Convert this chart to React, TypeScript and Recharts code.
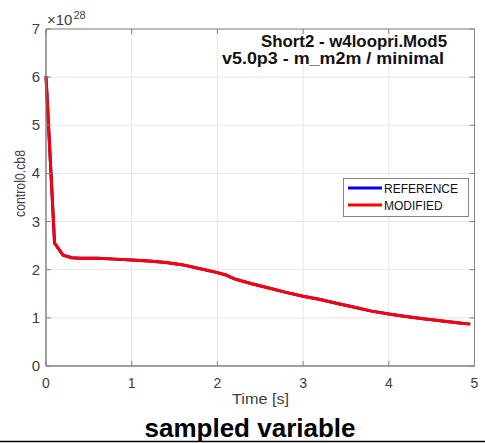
import React from 'react';
import { LineChart, Line, XAxis, YAxis, CartesianGrid, ReferenceArea } from 'recharts';

const times = [0, 0.1, 0.2, 0.3, 0.4, 0.6, 0.8, 1.0, 1.2, 1.4, 1.6, 1.8, 2.0, 2.1, 2.2, 2.4, 2.6, 2.8, 3.0, 3.2, 3.4, 3.6, 3.8, 4.0, 4.2, 4.4, 4.6, 4.8, 4.95];
const referenceValues = [6.02, 2.55, 2.3, 2.25, 2.24, 2.24, 2.22, 2.2, 2.18, 2.15, 2.1, 2.02, 1.94, 1.89, 1.81, 1.71, 1.62, 1.53, 1.45, 1.38, 1.3, 1.22, 1.14, 1.08, 1.03, 0.98, 0.94, 0.9, 0.87];
const modifiedValues = [6.02, 2.55, 2.3, 2.25, 2.24, 2.24, 2.22, 2.2, 2.18, 2.15, 2.1, 2.02, 1.94, 1.89, 1.81, 1.71, 1.62, 1.53, 1.45, 1.38, 1.3, 1.22, 1.14, 1.08, 1.03, 0.98, 0.94, 0.9, 0.87];
const xTicks = [0, 1, 2, 3, 4, 5];
const yTicks = [0, 1, 2, 3, 4, 5, 6, 7];
const seriesNames = ['REFERENCE', 'MODIFIED'];
const seriesColors = ['#0000ff', '#ff0000'];
const titleLines = ['Short2 - w4loopri.Mod5', 'v5.0p3 - m_m2m / minimal'];
const yLabel = 'control0.cb8';
const xLabel = 'Time [s]';
const caption = 'sampled variable';
const exponent = '28';

const data = times.map((t, i) => ({ t, ref: referenceValues[i], mod: modifiedValues[i] }));

const W = 485;
const H = 443;
const L = 46;
const R = 474.5;
const T = 29;
const B = 366;
const TXT = '#404040';
const BOX = '#858585';
const FONT = '"Liberation Sans", Arial, sans-serif';

const XTick = (props: any) => {
  const { x, payload } = props;
  return (
    <g>
      <text x={x} y={388} textAnchor="middle" fontSize={14} fill={TXT} fontFamily={FONT}>{payload.value}</text>
      <line x1={x} x2={x} y1={B} y2={B - 5} stroke={BOX} />
      <line x1={x} x2={x} y1={T} y2={T + 5} stroke={BOX} />
    </g>
  );
};

const YTick = (props: any) => {
  const { y, payload } = props;
  return (
    <g>
      <text x={L - 6} y={y + 5} textAnchor="end" fontSize={15} fill={TXT} fontFamily={FONT}>{payload.value}</text>
      <line x1={L} x2={L + 5} y1={y} y2={y} stroke={BOX} />
      <line x1={R - 5} x2={R} y1={y} y2={y} stroke={BOX} />
    </g>
  );
};

const titleStarts = [261, 222];
const titleLengths = [186, 222];

export default function App() {
  return (
    <div style={{ position: 'absolute', left: 0, top: 0, width: W, height: H, background: '#fff' }}>
      <LineChart width={W} height={H} data={data} margin={{ top: T, right: W - R, bottom: H - B - 30, left: L - 40 }}>
        <CartesianGrid stroke="#e6e6e6" strokeWidth={1} />
        <XAxis dataKey="t" type="number" domain={[0, 5]} ticks={xTicks} height={30} axisLine={{ stroke: BOX }} tickLine={false} tick={<XTick />} interval={0} />
        <YAxis type="number" domain={[0, 7]} ticks={yTicks} width={40} axisLine={{ stroke: BOX }} tickLine={false} tick={<YTick />} interval={0} />
        <ReferenceArea x1={0} x2={5} y1={0} y2={7} fill="none" stroke={BOX} strokeWidth={1} fillOpacity={0} />
        <Line dataKey="ref" name={seriesNames[0]} stroke={seriesColors[0]} strokeWidth={3} dot={false} isAnimationActive={false} />
        <Line dataKey="mod" name={seriesNames[1]} stroke={seriesColors[1]} strokeWidth={3} dot={false} isAnimationActive={false} />
      </LineChart>
      <svg width={W} height={H} style={{ position: 'absolute', left: 0, top: 0, pointerEvents: 'none' }}>
        <text x={47} y={24.5} fontSize={15} fill={TXT} fontFamily={FONT}>×10</text>
        <text x={73.5} y={19} fontSize={11} fill={TXT} fontFamily={FONT}>{exponent}</text>
        {titleLines.map((s, i) => (
          <text key={s} x={titleStarts[i]} y={47 + i * 16.5} textLength={titleLengths[i]} lengthAdjust="spacingAndGlyphs" fontSize={16} fontWeight="bold" fill="#111" fontFamily={FONT}>{s}</text>
        ))}
        <rect x={343.5} y={178.5} width={125} height={38} fill="#fff" stroke={BOX} />
        {seriesNames.map((n, i) => (
          <g key={n}>
            <line x1={348} x2={382} y1={188 + i * 17} y2={188 + i * 17} stroke={seriesColors[i]} strokeWidth={3} />
            <text x={384} y={192.5 + i * 17} fontSize={12} fill="#111" fontFamily={FONT}>{n}</text>
          </g>
        ))}
        <text x={20} y={183.5} transform="rotate(-90 20 183.5)" textAnchor="middle" dominantBaseline="central" textLength={67} lengthAdjust="spacingAndGlyphs" fontSize={14} fill={TXT} fontFamily={FONT}>{yLabel}</text>
        <text x={260.5} y={404} textAnchor="middle" textLength={57} lengthAdjust="spacingAndGlyphs" fontSize={15} fill={TXT} fontFamily={FONT}>{xLabel}</text>
        <text x={250} y={437} textAnchor="middle" fontSize={26} fontWeight="bold" fill="#000" fontFamily={FONT}>{caption}</text>
        <line x1={0} x2={W} y1={441.5} y2={441.5} stroke="#000" strokeWidth={1.5} />
      </svg>
    </div>
  );
}
